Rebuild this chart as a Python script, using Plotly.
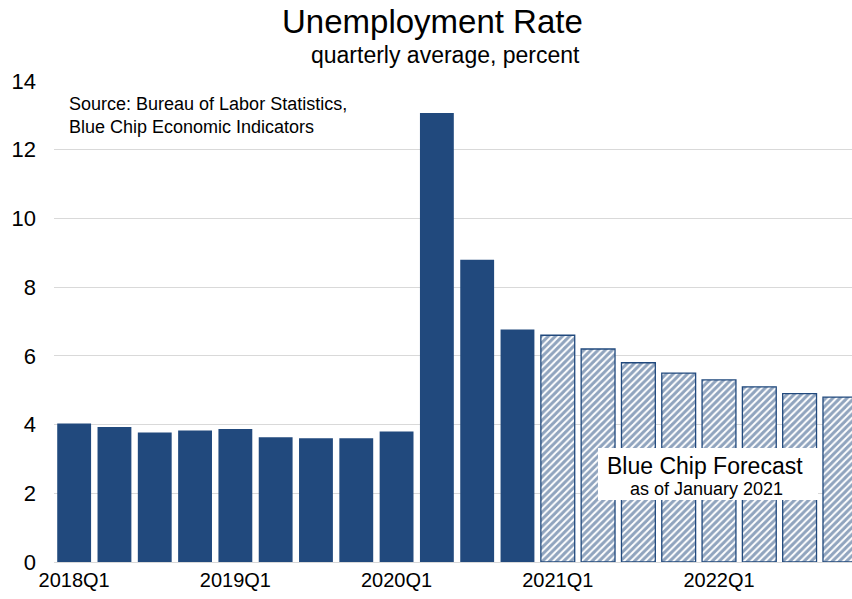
import plotly.graph_objects as go

quarters = ["2018Q1","2018Q2","2018Q3","2018Q4","2019Q1","2019Q2","2019Q3","2019Q4",
            "2020Q1","2020Q2","2020Q3","2020Q4",
            "2021Q1","2021Q2","2021Q3","2021Q4","2022Q1","2022Q2","2022Q3","2022Q4"]
actual_q = quarters[:12]
actual_vals = [4.03, 3.93, 3.77, 3.83, 3.87, 3.63, 3.60, 3.60, 3.80, 13.07, 8.80, 6.77]
forecast_q = quarters[12:]
forecast_vals = [6.6, 6.2, 5.8, 5.5, 5.3, 5.1, 4.9, 4.8]
tick_labels = ["2018Q1", "2019Q1", "2020Q1", "2021Q1", "2022Q1"]

navy = "#21497D"
font = "Liberation Sans, Arial, sans-serif"

fig = go.Figure()
fig.add_trace(go.Bar(x=actual_q, y=actual_vals, marker=dict(color=navy, line=dict(width=0)),
                     showlegend=False, hoverinfo="x+y"))
fig.add_trace(go.Bar(x=forecast_q, y=forecast_vals,
                     marker=dict(color="white", line=dict(color=navy, width=1.3),
                                 pattern=dict(shape="/", fgcolor=navy, bgcolor="white",
                                              size=5, solidity=0.6)),
                     showlegend=False, hoverinfo="x+y"))

fig.update_layout(
    width=852, height=599,
    margin=dict(l=54, r=0, t=81, b=37),
    paper_bgcolor="white", plot_bgcolor="white",
    bargap=0.16,
    font=dict(family=font, color="black"),
    xaxis=dict(type="category", categoryorder="array", categoryarray=quarters,
               range=[-0.5, 19.3], tickmode="array", tickvals=tick_labels, ticktext=tick_labels,
               tickfont=dict(size=20), showgrid=False, showline=True, linecolor="#d9d9d9",
               linewidth=1, ticks="", fixedrange=True),
    yaxis=dict(range=[0, 14], dtick=2, tickfont=dict(size=22), showgrid=True,
               gridcolor="#d9d9d9", gridwidth=1, zeroline=False, showline=False,
               ticklabelstandoff=17, fixedrange=True),
)

def py(p):
    return (562 - p) / 481.0

def px(p):
    return (p - 54) / 798.0

fig.add_annotation(text="Unemployment Rate", xref="paper", yref="paper", x=px(432), y=py(22),
                   showarrow=False, font=dict(size=33), xanchor="center", yanchor="middle")
fig.add_annotation(text="quarterly average, percent", xref="paper", yref="paper", x=px(445), y=py(55),
                   showarrow=False, font=dict(size=23), xanchor="center", yanchor="middle")
fig.add_annotation(text="Source: Bureau of Labor Statistics,", xref="paper", yref="paper",
                   x=px(67), y=py(104), showarrow=False, font=dict(size=18),
                   xanchor="left", yanchor="middle")
fig.add_annotation(text="Blue Chip Economic Indicators", xref="paper", yref="paper",
                   x=px(67), y=py(127), showarrow=False, font=dict(size=18),
                   xanchor="left", yanchor="middle")

fig.add_shape(type="rect", xref="paper", yref="paper", x0=px(598), x1=px(818), y0=py(500), y1=py(448),
              fillcolor="white", line=dict(width=0), layer="above")
fig.add_annotation(text="Blue Chip Forecast", xref="paper", yref="paper", x=px(705), y=py(466),
                   showarrow=False, font=dict(size=23), xanchor="center", yanchor="middle")
fig.add_annotation(text="as of January 2021", xref="paper", yref="paper", x=px(706), y=py(489),
                   showarrow=False, font=dict(size=18), xanchor="center", yanchor="middle")

fig.write_html("out.html")
